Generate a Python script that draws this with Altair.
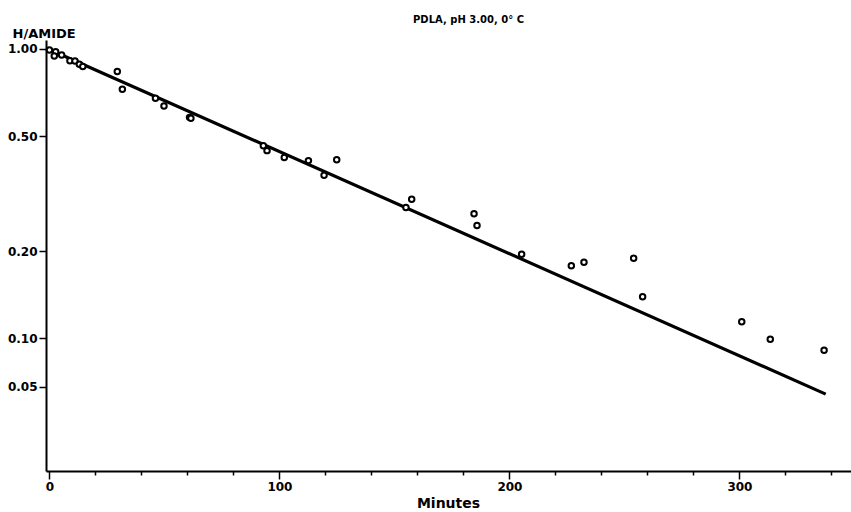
import altair as alt
import pandas as pd

# Observed points (minutes, H/amide)
minutes = [0.0, 2.7, 2.1, 5.3, 8.9, 11.1, 13.0, 14.5, 29.5, 31.7, 46.1, 49.8,
           60.9, 61.5, 93.0, 94.6, 102.1, 112.6, 119.4, 124.9, 155.0, 157.5,
           184.6, 185.9, 205.3, 226.9, 232.4, 254.0, 257.9, 301.0, 313.4, 336.8]
h_amide = [0.992, 0.979, 0.946, 0.953, 0.911, 0.909, 0.885, 0.869, 0.835, 0.725,
           0.675, 0.635, 0.580, 0.576, 0.463, 0.445, 0.421, 0.411, 0.366, 0.414,
           0.283, 0.302, 0.269, 0.245, 0.195, 0.178, 0.183, 0.189, 0.139, 0.114,
           0.099, 0.0907]

# Fitted straight line (on log scale)
fit_minutes = [-0.5, 337.5]
fit_h = [1.0, 0.064]

# Axis ticks
x_ticks = list(range(0, 341, 20))
x_labelled = [0, 100, 200, 300]
y_ticks = [1.0, 0.5, 0.2, 0.1, 0.068]
y_labels = ["1.00", "0.50", "0.20", "0.10", "0.05"]

pts = pd.DataFrame({"Minutes": minutes, "H": h_amide})
fit = pd.DataFrame({"Minutes": fit_minutes, "H": fit_h})

y_expr = " : ".join(
    f"abs(datum.value - {v}) < 1e-6 ? '{l}'" for v, l in zip(y_ticks, y_labels)
) + " : ''"
x_expr = "indexof([" + ",".join(str(v) for v in x_labelled) + "], datum.value) >= 0 ? datum.label : ''"

FONT = "DejaVu Sans"

x_enc = alt.X(
    "Minutes:Q",
    scale=alt.Scale(domain=[-1.5, 348.5], nice=False, zero=False),
    axis=alt.Axis(
        values=x_ticks,
        labelExpr=x_expr,
        title="Minutes",
        titleFont=FONT,
        titleFontSize=14,
        titleFontWeight="bold",
        titleX=402,
        titleY=32,
        titleBaseline="middle",
        titleAlign="center",
        labelFont=FONT,
        labelFontSize=12,
        labelFontWeight="bold",
        labelColor="black",
        labelPadding=2,
        tickSize={"condition": {"test": "datum.value % 100 === 0", "value": 8}, "value": 4},
        tickColor="black",
        tickWidth=1.5,
        domainColor="black",
        domainWidth=2,
        grid=False,
        labelFlush=False,
        labelOverlap=False,
    ),
)

y_enc = alt.Y(
    "H:Q",
    scale=alt.Scale(type="log", domain=[0.0347, 1.074], nice=False),
    axis=alt.Axis(
        values=y_ticks,
        labelExpr=y_expr,
        title="H/AMIDE",
        titleAngle=0,
        titleFont=FONT,
        titleFontSize=13,
        titleFontWeight="bold",
        titleX=-34,
        titleY=-7,
        titleAlign="left",
        titleBaseline="middle",
        labelFont=FONT,
        labelFontSize=12,
        labelFontWeight="bold",
        labelColor="black",
        labelPadding=2,
        tickSize=7,
        tickColor="black",
        tickWidth=1.5,
        domainColor="black",
        domainWidth=2,
        grid=False,
        labelFlush=False,
        labelOverlap=False,
    ),
)

line = alt.Chart(fit).mark_line(color="black", strokeWidth=3.2).encode(x=x_enc, y=y_enc)
points = alt.Chart(pts).mark_point(
    shape="circle", size=30, filled=False, color="black", strokeWidth=2, fill="white", fillOpacity=1
).encode(x="Minutes:Q", y="H:Q")

chart = (
    alt.layer(line, points)
    .properties(
        width=805,
        height=431,
        title=alt.TitleParams(
            "PDLA, pH 3.00, 0° C",
            font=FONT,
            fontSize=10,
            fontWeight="bold",
            color="black",
            anchor="middle",
            dx=20,
            offset=2,
        ),
        autosize=alt.AutoSizeParams(type="none"),
        padding={"left": 46, "top": 40, "right": 0, "bottom": 41},
        background="white",
    )
    .configure_view(stroke=None)
)

chart.save("out.html", embed_options={"renderer": "svg", "actions": False})
